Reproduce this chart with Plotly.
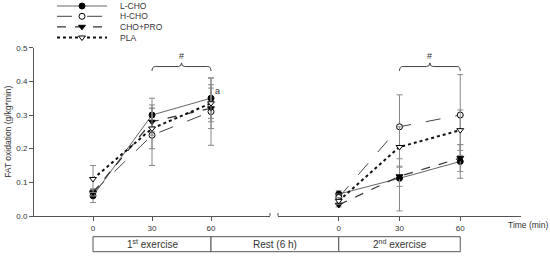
import plotly.graph_objects as go

# data (FAT oxidation, g/kg*min)
time = [0, 30, 60]
series = ["L-CHO", "H-CHO", "CHO+PRO", "PLA"]

ex1_lcho = [0.06, 0.30, 0.35]
ex1_hcho = [0.07, 0.24, 0.31]
ex1_chopro = [0.07, 0.28, 0.32]
ex1_pla = [0.11, 0.26, 0.335]
ex1_lcho_sd = [0.02, 0.05, 0.06]
ex1_hcho_sd = [0.01, 0.09, 0.10]
ex1_chopro_sd = [0.01, 0.04, 0.06]
ex1_pla_sd = [0.04, 0.06, 0.055]

ex2_lcho = [0.065, 0.112, 0.162]
ex2_hcho = [0.055, 0.265, 0.30]
ex2_chopro = [0.033, 0.118, 0.172]
ex2_pla = [0.045, 0.205, 0.255]
ex2_lcho_sd = [0.01, 0.097, 0.05]
ex2_hcho_sd = [0.01, 0.095, 0.12]
ex2_chopro_sd = [0.006, 0.03, 0.04]
ex2_pla_sd = [0.01, 0.06, 0.06]

phases = ["1<sup>st</sup> exercise", "Rest (6 h)", "2<sup>nd</sup> exercise"]

W, H = 550, 256
FONT = "Liberation Sans, Arial, sans-serif"
TXT = "#333333"
AX = "#555555"

# domains in paper units (margins are zero, so paper == pixels)
X1 = [34 / W, 270 / W]
X2 = [278 / W, 521 / W]
YD = [1 - 216 / H, 1 - 47.7 / H]
XR = [-30, 90]
YR = [0, 0.5]


def xp(v, dom):
    return dom[0] + (v - XR[0]) / (XR[1] - XR[0]) * (dom[1] - dom[0])


def yp(v):
    return YD[0] + (v - YR[0]) / (YR[1] - YR[0]) * (YD[1] - YD[0])


styles = {
    "L-CHO": dict(dash="solid", width=1, color="#666666", symbol="circle", fill="black"),
    "H-CHO": dict(dash="longdash", width=1, color="#444444", symbol="circle", fill="white"),
    "CHO+PRO": dict(dash="dash", width=1.2, color="#333333", symbol="triangle-down", fill="black"),
    "PLA": dict(dash="dot", width=2, color="#111111", symbol="triangle-down", fill="white"),
}


def marker(s):
    return dict(symbol=s["symbol"], size=6, color=s["fill"], line=dict(color="black", width=1))


ex1 = dict(zip(series, [ex1_lcho, ex1_hcho, ex1_chopro, ex1_pla]))
ex1_sd = dict(zip(series, [ex1_lcho_sd, ex1_hcho_sd, ex1_chopro_sd, ex1_pla_sd]))
ex2 = dict(zip(series, [ex2_lcho, ex2_hcho, ex2_chopro, ex2_pla]))
ex2_sd = dict(zip(series, [ex2_lcho_sd, ex2_hcho_sd, ex2_chopro_sd, ex2_pla_sd]))

fig = go.Figure()

for ax, vals, sds in [("", ex1, ex1_sd), ("2", ex2, ex2_sd)]:
    for name in series:
        s = styles[name]
        fig.add_trace(go.Scatter(
            x=time, y=vals[name], xaxis="x" + ax, yaxis="y" + ax,
            mode="lines+markers", showlegend=False, cliponaxis=False,
            line=dict(color=s["color"], width=s["width"], dash=s["dash"]),
            marker=marker(s),
            error_y=dict(type="data", array=sds[name], color="#888888", thickness=1, width=3),
        ))

# hand-made legend on a hidden helper axis (pixel units)
leg_y = [6, 16.3, 26.8, 37.5]
for name, ly in zip(series, leg_y):
    s = styles[name]
    fig.add_trace(go.Scatter(
        x=[57, 107], y=[ly, ly], xaxis="x3", yaxis="y3", mode="lines", showlegend=False,
        line=dict(color=s["color"], width=s["width"], dash=s["dash"])))
    fig.add_trace(go.Scatter(
        x=[82], y=[ly], xaxis="x3", yaxis="y3", mode="markers", showlegend=False,
        marker=marker(s)))
    fig.add_annotation(x=118, y=ly, xref="x3", yref="y3", text=name, showarrow=False,
                       xanchor="left", yanchor="middle", font=dict(size=8.5, color=TXT))

xaxis_common = dict(range=XR, tickvals=time, ticks="outside", ticklen=4, tickcolor=AX,
                    showline=True, linecolor=AX, linewidth=1, showgrid=False, zeroline=False,
                    tickfont=dict(size=8, color=TXT), automargin=False)

fig.update_layout(
    width=W, height=H, margin=dict(l=0, r=0, t=0, b=0),
    paper_bgcolor="white", plot_bgcolor="white",
    font=dict(family=FONT, color=TXT),
    xaxis=dict(domain=X1, anchor="y", **xaxis_common),
    xaxis2=dict(domain=X2, anchor="y2", **xaxis_common),
    yaxis=dict(domain=YD, range=YR, anchor="x", tickvals=[0, 0.1, 0.2, 0.3, 0.4, 0.5],
               tickformat=".1f", ticks="outside", ticklen=4, tickcolor=AX, showline=True,
               linecolor=AX, linewidth=1, showgrid=False, zeroline=False,
               tickfont=dict(size=8, color=TXT), automargin=False),
    yaxis2=dict(domain=YD, range=YR, anchor="x2", visible=False),
    xaxis3=dict(domain=[0, 220 / W], range=[0, 220], anchor="y3", visible=False),
    yaxis3=dict(domain=[1 - 46 / H, 1], range=[46, 0], anchor="x3", visible=False),
)

# y axis title
fig.add_annotation(x=8 / W, y=yp(0.25), xref="paper", yref="paper", text="FAT oxidation (g/kg*min)",
                   textangle=-90, showarrow=False, xanchor="center", yanchor="middle",
                   font=dict(size=8.5, color=TXT))

# x unit label
fig.add_annotation(x=528 / W, y=1 - 225 / H, xref="paper", yref="paper", text="Time (min)",
                   showarrow=False, xanchor="center", yanchor="middle", font=dict(size=8.5, color=TXT))

# axis break ticks
for xx in [X1[1], X2[0]]:
    fig.add_shape(type="line", x0=xx, x1=xx, y0=YD[0], y1=YD[0] + 3 / H, xref="paper", yref="paper",
                  line=dict(color=AX, width=1))

# significance brackets
for dom in [X1, X2]:
    a, b = xp(30, dom), xp(60, dom)
    m = (a + b) / 2
    yb, yt, ye = yp(0.444), yp(0.455), yp(0.431)
    path = (f"M {a} {ye} Q {a} {yb} {a + 0.006} {yb} L {m - 0.006} {yb} Q {m} {yb} {m} {yt} "
            f"Q {m} {yb} {m + 0.006} {yb} L {b - 0.006} {yb} Q {b} {yb} {b} {ye}")
    fig.add_shape(type="path", path=path, xref="paper", yref="paper", line=dict(color="#444444", width=1))
    fig.add_annotation(x=m, y=yp(0.455), xref="paper", yref="paper", text="#", showarrow=False,
                       xanchor="center", yanchor="bottom", font=dict(size=9, color=TXT))

fig.add_annotation(x=xp(60, X1) + 2 / W, y=yp(0.37), xref="paper", yref="paper", text="a",
                   showarrow=False, xanchor="left", yanchor="middle", font=dict(size=9, color=TXT))

# phase boxes below the axis
bx = [xp(0, X1), xp(60, X1), xp(0, X2), xp(60, X2)]
by0, by1 = 1 - 251.7 / H, 1 - 236.7 / H
for i, label in enumerate(phases):
    fig.add_shape(type="rect", x0=bx[i], x1=bx[i + 1], y0=by0, y1=by1, xref="paper", yref="paper",
                  line=dict(color="#555555", width=1), fillcolor="white")
    fig.add_annotation(x=(bx[i] + bx[i + 1]) / 2, y=(by0 + by1) / 2, xref="paper", yref="paper",
                       text=label, showarrow=False, xanchor="center", yanchor="middle",
                       font=dict(size=10, color=TXT))

# page body has a default 8px margin; drop it so the figure sits at the window origin
fig.write_html("out.html", config={"displayModeBar": False},
               post_script="document.body.style.margin='0';")
